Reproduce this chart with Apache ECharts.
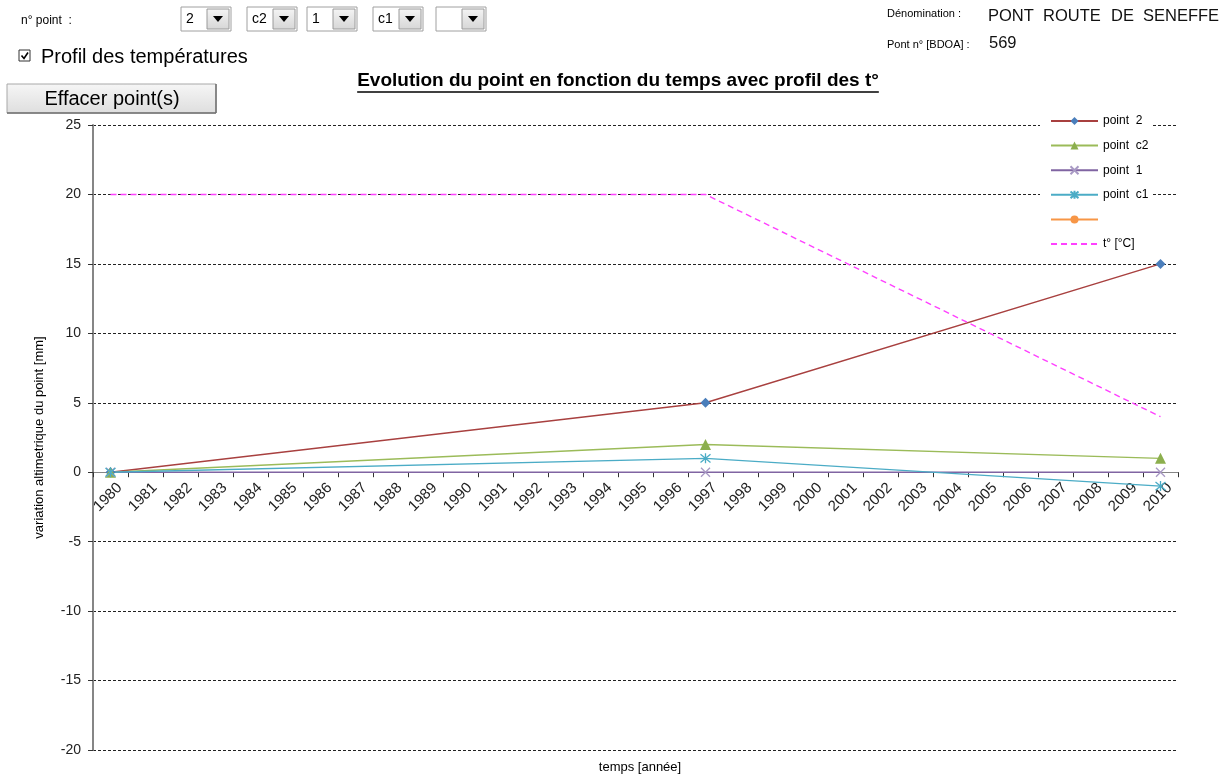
<!DOCTYPE html>
<html>
<head>
<meta charset="utf-8">
<script src="https://cdn.jsdelivr.net/npm/echarts@6/dist/echarts.min.js"></script>
<style>
  html, body { margin: 0; padding: 0; background: #fff; }
  #chart { width: 1220px; height: 778px; }
</style>
</head>
<body>
<div id="chart"></div>
<script>
// Years on the time axis
var years = ['1980','1981','1982','1983','1984','1985','1986','1987','1988','1989',
             '1990','1991','1992','1993','1994','1995','1996','1997','1998','1999',
             '2000','2001','2002','2003','2004','2005','2006','2007','2008','2009','2010'];

// Survey campaigns and the altimetric variation of each point [mm]
var surveyYears = ['1980', '1997', '2010'];
var point2  = [0, 5, 15];
var pointC2 = [0, 2, 1];
var point1  = [0, 0, 0];
var pointC1 = [0, 1, -1];
// Temperature profile [°C]
var tempYears = ['1980', '1997', '2010'];
var tempValues = [20, 20, 4];

// Y axis ticks
var yMin = -20, yMax = 25, yStep = 5;

function pairs(xs, vs) { return xs.map(function (x, i) { return [x, vs[i]]; }); }

var FONT = '"Liberation Sans", Arial, sans-serif';
var crossPath = 'path://M0,0L10,10M10,0L0,10';
var starPath = 'path://M0,0L10,10M10,0L0,10M5,-1L5,11';

var W = 1220, H = 778;
var gridTop = 125, gridBottom = 28;
var plotH = H - gridTop - gridBottom;
// the category axis sits on the zero line
var xAxisOffset = -plotH * (0 - yMin) / (yMax - yMin);

var chart = echarts.init(document.getElementById('chart'));

// measure title width for the underline
var ctx = document.createElement('canvas').getContext('2d');
var titleText = 'Evolution du point en fonction du temps avec profil des t°';
var titleFont = 'bold 19px ' + FONT;
ctx.font = titleFont;
var titleW = ctx.measureText(titleText).width;
var titleX = 618;

function dropdown(x, label) {
  return [
    { type: 'rect', shape: { x: x, y: 7, width: 50, height: 24 },
      style: { fill: '#fff', stroke: '#a0a0a0', lineWidth: 1 } },
    { type: 'rect', shape: { x: x + 26, y: 9, width: 22, height: 20 },
      style: { fill: new echarts.graphic.LinearGradient(0, 0, 0, 1, [
        { offset: 0, color: '#f4f4f4' }, { offset: 1, color: '#d6d6d6' }]),
        stroke: '#9a9a9a', lineWidth: 1 } },
    { type: 'polygon', shape: { points: [[x + 32, 16], [x + 42, 16], [x + 37, 22]] },
      style: { fill: '#000' } },
    { type: 'text', x: x + 5, y: 19,
      style: { text: label, font: '14px ' + FONT, fill: '#000', textVerticalAlign: 'middle' } }
  ];
}

function word(x, y, t) {
  return { type: 'text', x: x, y: y, style: { text: t, font: '16.5px ' + FONT, fill: '#111', textVerticalAlign: 'middle' } };
}

var graphics = [
  { type: 'text', x: 21, y: 21, style: { text: 'n° point  :', font: '12px ' + FONT, fill: '#000', textVerticalAlign: 'middle' } },
  { type: 'rect', shape: { x: 19, y: 50, width: 11, height: 11 }, style: { fill: '#fff', stroke: '#333', lineWidth: 1 } },
  { type: 'polyline', shape: { points: [[21.5, 55.5], [24, 58.5], [28, 52.5]] }, style: { stroke: '#000', lineWidth: 1.6, fill: null } },
  { type: 'text', x: 41, y: 57, style: { text: 'Profil des températures', font: '20px ' + FONT, fill: '#000', textVerticalAlign: 'middle' } },
  { type: 'rect', shape: { x: 7, y: 84, width: 209, height: 29 },
    style: { fill: new echarts.graphic.LinearGradient(0, 0, 0, 1, [
      { offset: 0, color: '#f6f6f6' }, { offset: 1, color: '#dedede' }]),
      stroke: '#a8a8a8', lineWidth: 1 } },
  { type: 'line', shape: { x1: 216, y1: 84, x2: 216, y2: 113 }, style: { stroke: '#707070', lineWidth: 1.5 } },
  { type: 'line', shape: { x1: 7, y1: 113, x2: 216, y2: 113 }, style: { stroke: '#707070', lineWidth: 1.5 } },
  { type: 'text', x: 112, y: 99, style: { text: 'Effacer point(s)', font: '20px ' + FONT, fill: '#000', textAlign: 'center', textVerticalAlign: 'middle' } },
  { type: 'text', x: 887, y: 14, style: { text: 'Dénomination :', font: '11px ' + FONT, fill: '#000', textVerticalAlign: 'middle' } },
  word(988, 16, 'PONT'), word(1043, 16, 'ROUTE'), word(1111, 16, 'DE'), word(1143, 16, 'SENEFFE'),
  { type: 'text', x: 887, y: 45, style: { text: 'Pont n° [BDOA] :', font: '11px ' + FONT, fill: '#000', textVerticalAlign: 'middle' } },
  { type: 'text', x: 989, y: 43, style: { text: '569', font: '16.5px ' + FONT, fill: '#111', textVerticalAlign: 'middle' } },
  { type: 'text', x: titleX, y: 81, style: { text: titleText, font: titleFont, fill: '#000', textAlign: 'center', textVerticalAlign: 'middle' } },
  { type: 'line', shape: { x1: titleX - titleW / 2, y1: 92, x2: titleX + titleW / 2, y2: 92 }, style: { stroke: '#000', lineWidth: 1.5 } },
  { type: 'text', x: 640, y: 767, style: { text: 'temps [année]', font: '13px ' + FONT, fill: '#000', textAlign: 'center', textVerticalAlign: 'middle' } }
];
[[181, '2'], [247, 'c2'], [307, '1'], [373, 'c1'], [436, '']].forEach(function (d) {
  graphics = graphics.concat(dropdown(d[0], d[1]));
});

var option = {
  animation: false,
  backgroundColor: '#fff',
  textStyle: { fontFamily: FONT },
  grid: { left: 93, right: 42, top: gridTop, bottom: gridBottom },
  graphic: graphics,
  legend: {
    orient: 'vertical',
    left: 1040, top: 111,
    padding: [4, 4, 4, 10],
    backgroundColor: '#fff',
    itemWidth: 47, itemHeight: 10, itemGap: 12.6,
    textStyle: { fontSize: 12, color: '#000', fontFamily: FONT },
    data: ['point  2', 'point  c2', 'point  1', 'point  c1', ' ', 't° [°C]']
  },
  xAxis: {
    type: 'category',
    data: years,
    boundaryGap: true,
    offset: xAxisOffset,
    axisLine: { onZero: false, lineStyle: { color: '#868686', width: 1 } },
    axisTick: { show: true, length: 5, lineStyle: { color: '#333' } },
    axisLabel: { interval: 0, rotate: 45, fontSize: 15, color: '#222', margin: 4,
                 verticalAlign: 'top', lineHeight: 26 },
    splitLine: { show: false }
  },
  yAxis: {
    type: 'value',
    min: yMin, max: yMax, interval: yStep,
    name: 'variation altimetrique du point [mm]',
    nameLocation: 'middle', nameGap: 47,
    nameTextStyle: { fontSize: 13, color: '#000' },
    axisLine: { show: true, lineStyle: { color: '#868686', width: 2 } },
    axisTick: { show: true, length: 5, lineStyle: { color: '#333' } },
    axisLabel: { fontSize: 14, color: '#222', margin: 12 },
    splitLine: { show: true, lineStyle: { color: '#222', type: [3, 2], width: 1 } }
  },
  series: [
    { name: 'point  2', type: 'line', data: pairs(surveyYears, point2),
      symbol: 'diamond', symbolSize: 10,
      itemStyle: { color: '#4a7ebb' }, lineStyle: { color: '#a8403f', width: 1.4 } },
    { name: 'point  c2', type: 'line', data: pairs(surveyYears, pointC2),
      symbol: 'triangle', symbolSize: 11,
      itemStyle: { color: '#8caf4e' }, lineStyle: { color: '#9bbb59', width: 1.4 } },
    { name: 'point  1', type: 'line', data: pairs(surveyYears, point1),
      symbol: crossPath, symbolSize: 9,
      itemStyle: { color: 'rgba(0,0,0,0)', borderColor: '#a899c4', borderWidth: 1.3 },
      lineStyle: { color: '#8064a2', width: 1.4 } },
    { name: 'point  c1', type: 'line', data: pairs(surveyYears, pointC1),
      symbol: starPath, symbolSize: 10,
      itemStyle: { color: 'rgba(0,0,0,0)', borderColor: '#4bacc6', borderWidth: 1.3 },
      lineStyle: { color: '#4bacc6', width: 1.4 } },
    { name: ' ', type: 'line', data: [],
      symbol: 'circle', symbolSize: 9,
      itemStyle: { color: '#f79646' }, lineStyle: { color: '#f79646', width: 1.4 } },
    { name: 't° [°C]', type: 'line', data: pairs(tempYears, tempValues),
      symbol: 'none', showSymbol: false,
      itemStyle: { color: 'rgba(0,0,0,0)', borderWidth: 0 },
      lineStyle: { color: '#ff40ff', width: 1.4, type: [6, 4] } }
  ]
};
chart.setOption(option);
</script>
</body>
</html>
